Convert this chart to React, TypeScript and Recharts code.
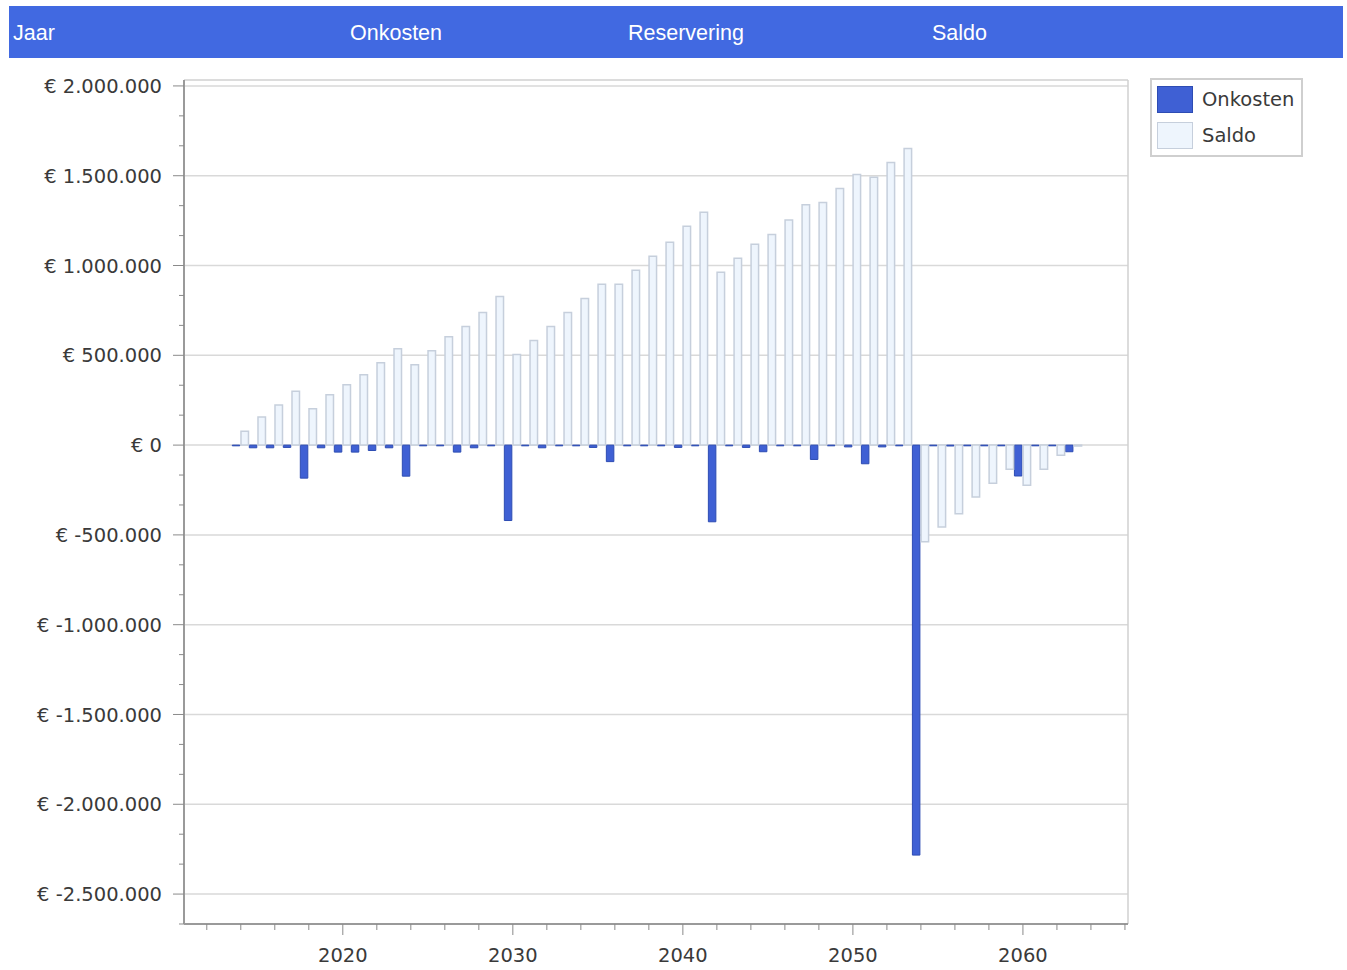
import React from 'react';
import { BarChart, Bar, XAxis, YAxis, ReferenceLine, Legend, CartesianGrid } from 'recharts';

// ---- data ----
const years = [
  2014, 2015, 2016, 2017, 2018, 2019, 2020, 2021, 2022, 2023,
  2024, 2025, 2026, 2027, 2028, 2029, 2030, 2031, 2032, 2033,
  2034, 2035, 2036, 2037, 2038, 2039, 2040, 2041, 2042, 2043,
  2044, 2045, 2046, 2047, 2048, 2049, 2050, 2051, 2052, 2053,
  2054, 2055, 2056, 2057, 2058, 2059, 2060, 2061, 2062, 2063,
];
const onkosten = [
  -4000, -15000, -15000, -13000, -184000, -15000, -39000, -39000, -30000, -15000,
  -173000, -4000, -4000, -39000, -15000, -4000, -420000, -4000, -15000, -4000,
  -4000, -13000, -92000, -4000, -4000, -4000, -13000, -4000, -427000, -4000,
  -13000, -37000, -4000, -4000, -80000, -4000, -10000, -104000, -10000, -4000,
  -2283000, -4000, -5000, -4000, -4000, -4000, -172000, -4000, -4000, -37000,
];
const saldo = [
  77000, 156000, 223000, 300000, 203000, 281000, 336000, 392000, 459000, 537000,
  448000, 526000, 604000, 660000, 738000, 827000, 505000, 583000, 661000, 739000,
  817000, 895000, 895000, 973000, 1051000, 1129000, 1218000, 1296000, 962000, 1040000,
  1118000, 1173000, 1253000, 1339000, 1351000, 1429000, 1507000, 1492000, 1574000, 1652000,
  -538000, -456000, -382000, -289000, -213000, -134000, -224000, -134000, -56000, -5000,
];
const headerLabels = ['Jaar', 'Onkosten', 'Reservering', 'Saldo'];
const headerLefts = [13, 350, 628, 932];
const yMajorTicks = [2000000, 1500000, 1000000, 500000, 0, -500000, -1000000, -1500000, -2000000, -2500000];
const xTickYears = [
  2012, 2014, 2016, 2018, 2020, 2022, 2024, 2026, 2028, 2030, 2032, 2034, 2036, 2038,
  2040, 2042, 2044, 2046, 2048, 2050, 2052, 2054, 2056, 2058, 2060, 2062, 2064, 2066,
];
const xDomain: [number, number] = [2010.66, 2066.18];
const yDomain: [number, number] = [-2666667, 2033000];

const data = years.map((jaar, i) => ({ jaar, Onkosten: onkosten[i], Saldo: saldo[i] }));

// minor ticks: two between each pair of major ticks (plus one below the lowest)
const yAllTicks: number[] = [];
for (const m of yMajorTicks) {
  yAllTicks.push(m);
  yAllTicks.push(m - 500000 / 3);
  yAllTicks.push(m - (2 * 500000) / 3);
}
const yTicks = yAllTicks.filter((v) => v >= yDomain[0] - 1 && v <= yDomain[1]);

const BLUE = '#3f60d4';
const BLUE_STROKE = '#2d4cb3';
const SALDO_FILL = '#eef5fd';
const SALDO_STROKE = '#c6cfdc';
const TEXT = '#3a3a3a';
const FONT = '"DejaVu Sans", Verdana, sans-serif';
const FS = 19.5;

const fmtEuro = (v: number) => {
  const r = Math.round(v);
  const abs = Math.abs(r).toString().replace(/\B(?=(\d{3})+(?!\d))/g, '.');
  return '€ ' + (r < 0 ? '-' : '') + abs;
};

const isMajor = (v: number) => Math.abs(Math.round(v) % 500000) < 2;

const YTick = (props: any) => {
  const { x, y, payload } = props;
  const v = payload.value;
  const major = isMajor(v);
  return (
    <g>
      <line x1={x - (major ? 11 : 5)} x2={x} y1={y} y2={y} stroke="#8a8a8a" strokeWidth={1} />
      {major && (
        <text x={x - 22} y={y} dy="0.36em" textAnchor="end" fontFamily={FONT} fontSize={FS} fill={TEXT}>
          {fmtEuro(v)}
        </text>
      )}
    </g>
  );
};

const XTick = (props: any) => {
  const { x, y, payload } = props;
  const v = payload.value;
  const major = v % 10 === 0;
  return (
    <g>
      <line x1={x} x2={x} y1={y} y2={y + (major ? 11 : 6)} stroke="#8a8a8a" strokeWidth={1} />
      {major && (
        <text x={x} y={y + 31} dy="0.36em" textAnchor="middle" fontFamily={FONT} fontSize={FS} fill={TEXT}>
          {v}
        </text>
      )}
    </g>
  );
};

const legendItems = [
  { name: 'Onkosten', fill: BLUE, stroke: BLUE_STROKE },
  { name: 'Saldo', fill: SALDO_FILL, stroke: SALDO_STROKE },
];

const LegendBox = () => (
  <div
    style={{
      width: 149,
      height: 75,
      border: '2px solid #cfcfcf',
      background: '#fff',
      boxSizing: 'content-box',
      fontFamily: FONT,
      fontSize: FS,
      color: TEXT,
      position: 'relative',
    }}
  >
    {legendItems.map((it, i) => (
      <div key={it.name} style={{ position: 'absolute', left: 5, top: 6 + i * 36, height: 27, display: 'flex', alignItems: 'center' }}>
        <div
          style={{
            width: 34,
            height: 25,
            background: it.fill,
            border: `1px solid ${it.stroke}`,
          }}
        />
        <span style={{ marginLeft: 9, lineHeight: '27px', whiteSpace: 'nowrap' }}>{it.name}</span>
      </div>
    ))}
  </div>
);

export default function App() {
  return (
    <div style={{ position: 'absolute', left: 0, top: 0, width: 1347, height: 970, background: '#fff', overflow: 'hidden' }}>
      <div
        style={{
          position: 'absolute',
          left: 9,
          top: 6,
          width: 1334,
          height: 52,
          background: '#4169e1',
        }}
      >
        {headerLabels.map((h, i) => (
          <span
            key={h}
            style={{
              position: 'absolute',
              left: headerLefts[i] - 9,
              top: 1,
              lineHeight: '52px',
              color: '#fff',
              fontFamily: '"Liberation Sans", Arial, sans-serif',
              fontSize: 21.5,
            }}
          >
            {h}
          </span>
        ))}
      </div>
      <div style={{ position: 'absolute', left: 0, top: 0 }}>
        <BarChart
          width={1347}
          height={970}
          data={data}
          margin={{ top: 80, right: 219, bottom: 6, left: 84 }}
          barGap={1.2}
        >
          <CartesianGrid
            vertical={false}
            horizontalValues={yMajorTicks}
            stroke="#d9d9d9"
            strokeWidth={1.5}
          />
          <ReferenceLine y={yDomain[1]} stroke="#d0d0d0" strokeWidth={1.5} />
          <ReferenceLine x={xDomain[1]} stroke="#d0d0d0" strokeWidth={1.5} />
          <XAxis
            dataKey="jaar"
            type="number"
            domain={xDomain}
            ticks={xTickYears}
            interval={0}
            allowDataOverflow
            height={40}
            tickSize={0}
            tickMargin={0}
            tickLine={false}
            axisLine={{ stroke: '#9a9a9a', strokeWidth: 2 }}
            tick={<XTick />}
          />
          <YAxis
            type="number"
            domain={yDomain}
            ticks={yTicks}
            interval={0}
            allowDataOverflow
            width={100}
            tickSize={0}
            tickMargin={0}
            tickLine={false}
            axisLine={{ stroke: '#9a9a9a', strokeWidth: 2 }}
            tick={<YTick />}
          />
          <Legend
            layout="horizontal"
            verticalAlign="middle"
            align="center"
            content={<LegendBox />}
            wrapperStyle={{ position: 'absolute', left: 1150, top: 78, width: 'auto', height: 'auto' }}
          />
          <Bar dataKey="Onkosten" fill={BLUE} stroke={BLUE_STROKE} strokeWidth={1} barSize={7.5} isAnimationActive={false} />
          <Bar dataKey="Saldo" fill={SALDO_FILL} stroke={SALDO_STROKE} strokeWidth={1.5} barSize={7.5} isAnimationActive={false} />
        </BarChart>
      </div>
    </div>
  );
}
